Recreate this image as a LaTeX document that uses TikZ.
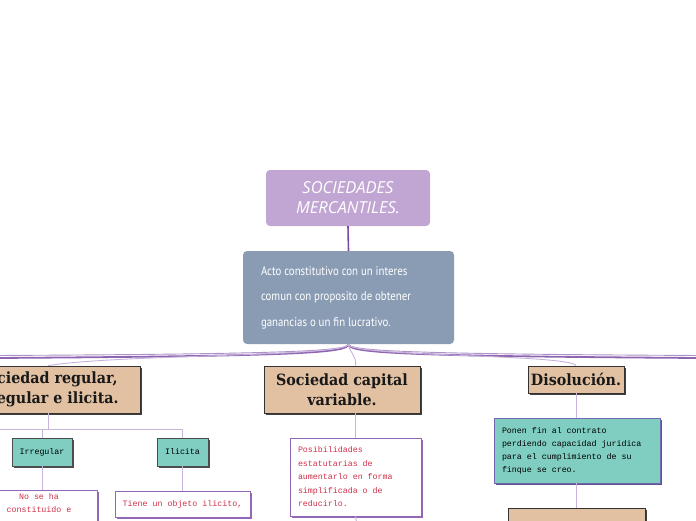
\documentclass[tikz,border=0pt]{standalone}
\usepackage{fontspec}
\usetikzlibrary{shadows,calc}
\newfontfamily\titlefont{Open Sans}
\newfontfamily\condfont[FakeStretch=0.86]{PT Sans}
\newfontfamily\slabfont[FakeStretch=0.92]{DejaVu Serif}
\newfontfamily\monofont{Liberation Mono}
\definecolor{titlefill}{HTML}{C1A6D3}
\definecolor{bluefill}{HTML}{8A9CB4}
\definecolor{tanfill}{HTML}{E2C0A2}
\definecolor{tealfill}{HTML}{7FCEC1}
\definecolor{rootline}{HTML}{7A4AA3}
\definecolor{thinline}{HTML}{C9B3DD}
\definecolor{boxpurple}{HTML}{9466B6}
\definecolor{redtext}{HTML}{D0304A}
\definecolor{tealborder}{HTML}{7068B0}
\tikzset{
  titlebox/.style={fill=titlefill, rounded corners=4pt, minimum width=164pt, minimum height=56pt, inner sep=0pt,
    text=white, align=center, font=\titlefont\itshape\fontsize{16.5}{20}\selectfont},
  bluebox/.style={fill=bluefill, rounded corners=4pt, minimum width=211pt, minimum height=93pt, inner sep=0pt,
    text=white, align=left, font=\condfont\fontsize{12.6}{25.5}\selectfont},
  tanbox/.style={fill=tanfill, draw=black!80, line width=0.8pt, inner sep=0pt,
    drop shadow={shadow xshift=2pt, shadow yshift=-2pt, fill=black!75, opacity=1},
    text=black!90, align=center, font=\slabfont\bfseries\fontsize{15.5}{20}\selectfont},
  tealbox/.style={fill=tealfill, draw=black!70, line width=0.8pt, inner sep=0pt, minimum height=28pt,
    drop shadow={shadow xshift=2pt, shadow yshift=-2pt, fill=black!70, opacity=1},
    font=\monofont\fontsize{8.3}{13}\selectfont},
  whitebox/.style={fill=white, draw=boxpurple, line width=0.8pt, inner sep=0pt,
    drop shadow={shadow xshift=1.5pt, shadow yshift=-1.5pt, fill=boxpurple, opacity=1},
    text=redtext, font=\monofont\fontsize{8.3}{13.5}\selectfont},
  rootconn/.style={draw=rootline, line width=1.6pt},
  thickbranch/.style={draw=rootline!85, line width=1.8pt},
  thinbranch/.style={draw=thinline, line width=0.9pt},
  subconn/.style={draw=thinline, line width=1pt}
}
\begin{document}
\begin{tikzpicture}[x=1pt,y=-1pt]
\fill[white] (0,0) rectangle (696,520);
\useasboundingbox (0,0) rectangle (696,520);
\clip (0,0) rectangle (696,520);

% nodes
\node[titlebox] (title) at (348,198) {SOCIEDADES\\MERCANTILES.};
\node[bluebox] (blue) at (348.5,297.5) {\raisebox{-1.5pt}{\begin{minipage}{175pt}Acto constitutivo con un interes\\comun con proposito de obtener\\ganancias o un fin lucrativo.\end{minipage}}};

\node[tanbox, minimum width=185pt, minimum height=47pt] (l2l) at (47.5,389.5) {Sociedad regular,\\irregular e ilicita.};
\node[tanbox, minimum width=156pt, minimum height=47pt] (l2m) at (342,389.5) {Sociedad capital\\variable.};
\node[tanbox, minimum width=96pt, minimum height=27pt] (l2r) at (576,379.5) {Disolución.};

\node[tealbox, minimum width=60pt] (irr) at (42,452) {Irregular};
\node[tealbox, minimum width=51pt] (ili) at (182.5,452) {Ilicita};

\node[whitebox, minimum width=116pt, minimum height=60pt, anchor=north] (whL) at (39,490)
  {\begin{minipage}[t][56pt]{110pt}\centering\vspace{1pt}No se ha\\constituido e\end{minipage}};
\node[whitebox, minimum width=135pt, minimum height=26pt] (whI) at (182.5,504) {Tiene un objeto ilicito,};
\node[whitebox, minimum width=131pt, minimum height=78pt] (whM) at (355.5,477)
  {\begin{minipage}{115pt}\raggedright Posibilidades\\estatutarias de\\aumentarlo en forma\\simplificada o de\\reducirlo.\end{minipage}};

\node[tealbox, draw=tealborder, minimum width=166pt, minimum height=65pt,
  drop shadow={shadow xshift=2pt, shadow yshift=-2pt, fill=tealborder!80!black, opacity=1}] (tealR) at (577,450.5)
  {\begin{minipage}{150pt}\raggedright\fontsize{8.3}{13}\selectfont Ponen fin al contrato\\perdiendo capacidad juridica\\para el cumplimiento de su\\finque se creo.\end{minipage}};
\node[tanbox, minimum width=137pt, minimum height=40pt, anchor=north] (tanB) at (576.5,508) {};

% coordinates
\coordinate (offL) at (-5,358);
\coordinate (offR) at (701,358);
\coordinate (offL2) at (-5,355.5);
\coordinate (offR2) at (701,355.5);
\coordinate (jL) at (48,429);
\coordinate (jLoff) at (-10,429);
\coordinate (midDown) at (357,525);

% connectors
\draw[rootconn] (title.south) -- (blue.north);

\draw[thickbranch] (blue.south) .. controls (348,353) and (300,356) .. (offL);
\draw[thickbranch] (blue.south) .. controls (348,353) and (400,356) .. (offR);
\draw[draw=rootline!60, line width=0.9pt] (blue.south) .. controls (346,351) and (290,354) .. (offL2);
\draw[draw=rootline!60, line width=0.9pt] (blue.south) .. controls (350,351) and (410,354) .. (offR2);

\draw[thinbranch] (blue.south) .. controls (348,357) and (120,354) .. (l2l.north -| jL);
\draw[thinbranch] (blue.south) .. controls (349,352) and (357,356) .. (l2m.north -| whM.north);
\draw[thinbranch] (blue.south) .. controls (348,357) and (570,354) .. (l2r.north);

\draw[subconn] (l2l.south -| jL) -- (jL);
\draw[subconn] (jLoff) -| (ili.north);
\draw[subconn] (irr.north |- jL) -- (irr.north);
\draw[subconn] (irr.south) -- (irr.south |- whL.north);
\draw[subconn] (ili.south) -- (whI.north);

\draw[subconn] (l2m.south -| whM.north) -- (whM.north);
\draw[subconn] (whM.south) -- (midDown);

\draw[subconn] (l2r.south) -- (tealR.north -| l2r.south);
\draw[subconn] (tealR.south -| l2r.south) -- (tanB.north -| l2r.south);
\end{tikzpicture}
\end{document}
